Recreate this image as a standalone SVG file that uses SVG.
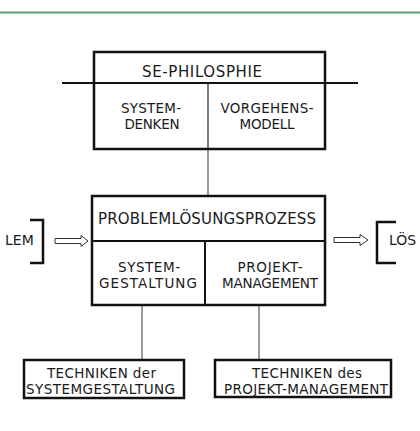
<svg xmlns="http://www.w3.org/2000/svg" width="420" height="431" viewBox="0 0 420 431">
  <style>
    .box { fill: #ffffff; stroke: #111111; stroke-width: 2.5; }
    .div { stroke: #111111; stroke-width: 2; fill: none; }
    .thin { stroke: #222222; stroke-width: 1.2; fill: none; }
    .conn { stroke: #7a7a7a; stroke-width: 1.5; fill: none; }
    .bracket { stroke: #111111; stroke-width: 2.5; fill: none; }
    .arrow { fill: #ffffff; stroke: #333333; stroke-width: 1; }
    text { font-family: "DejaVu Sans", Verdana, sans-serif; fill: #1a1a1a; }
    .h { font-size: 15px; text-anchor: middle; }
    .t { font-size: 13.5px; text-anchor: middle; }
    .s { font-size: 14px; }
  </style>

  <!-- header rule -->
  <line x1="0" y1="12.5" x2="420" y2="12.5" stroke="#5f9f6c" stroke-width="1.8"/>

  <!-- connectors -->
  <g id="connectors">
    <line class="conn" x1="208" y1="149" x2="208" y2="196"/>
    <line class="conn" x1="142" y1="305" x2="142" y2="360"/>
    <line class="conn" x1="259" y1="305" x2="259" y2="360"/>
    <path class="arrow" d="M55,238.5 H81 V235.5 L88,241 L81,246.5 V243.5 H55 Z"/>
    <path class="arrow" d="M334,237.5 H360 V234.5 L368,240 L360,245.5 V242.5 H334 Z"/>
  </g>

  <!-- SE philosophy block -->
  <g id="se-philosophie">
    <rect class="box" x="94" y="52" width="231" height="97"/>
    <line class="div" x1="62" y1="83" x2="358" y2="83"/>
    <line class="thin" x1="208" y1="83" x2="208" y2="149"/>
    <text class="h" x="202" y="77" textLength="120">SE-PHILOSPHIE</text>
  </g>
  <g id="systemdenken">
    <text class="t" x="151" y="113" textLength="60">SYSTEM-</text>
    <text class="t" x="152" y="128.5" textLength="55">DENKEN</text>
  </g>
  <g id="vorgehensmodell">
    <text class="t" x="267" y="113" textLength="93">VORGEHENS-</text>
    <text class="t" x="267" y="128.5" textLength="55">MODELL</text>
  </g>

  <!-- problem solving process block -->
  <g id="problemloesungsprozess">
    <rect class="box" x="92" y="196" width="233" height="109"/>
    <line class="div" x1="92" y1="241" x2="325" y2="241"/>
    <line class="div" x1="205" y1="241" x2="205" y2="306"/>
    <text class="h" x="207" y="224" textLength="218">PROBLEMLÖSUNGSPROZESS</text>
  </g>
  <g id="systemgestaltung">
    <text class="t" x="149" y="272" textLength="62">SYSTEM-</text>
    <text class="t" x="148" y="287.5" textLength="98">GESTALTUNG</text>
  </g>
  <g id="projektmanagement">
    <text class="t" x="270" y="272" textLength="65">PROJEKT-</text>
    <text class="t" x="270" y="287.5" textLength="96">MANAGEMENT</text>
  </g>

  <!-- input / output -->
  <g id="lem">
    <path class="bracket" d="M30,220 H43 V263 H30"/>
    <text class="s" x="5" y="245">LEM</text>
  </g>
  <g id="loes">
    <path class="bracket" d="M396,222 H377 V263 H396"/>
    <text class="s" x="389" y="245">LÖS</text>
  </g>

  <!-- technique boxes -->
  <g id="techniken-systemgestaltung">
    <rect class="box" x="24" y="360" width="160" height="38"/>
    <text class="t" x="101.5" y="377.5" textLength="109">TECHNIKEN der</text>
    <text class="t" x="100.5" y="394" textLength="149">SYSTEMGESTALTUNG</text>
  </g>
  <g id="techniken-projektmanagement">
    <rect class="box" x="215" y="360" width="176" height="37"/>
    <text class="t" x="307" y="377.5" textLength="110">TECHNIKEN des</text>
    <text class="t" x="306" y="394" textLength="164">PROJEKT-MANAGEMENT</text>
  </g>
</svg>
